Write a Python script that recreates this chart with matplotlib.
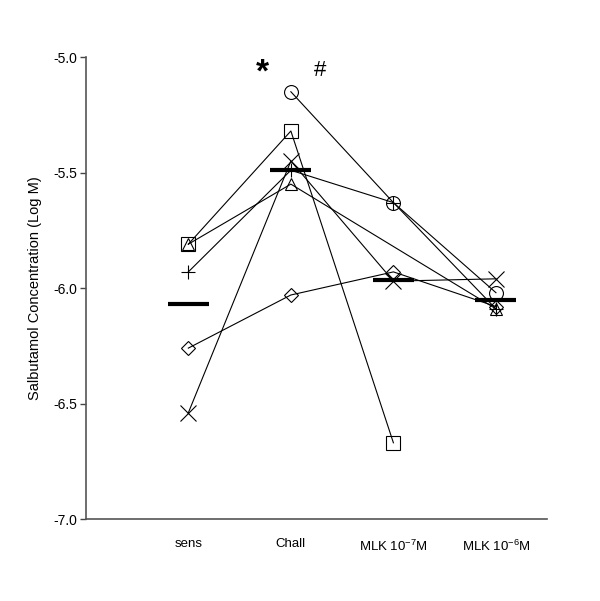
import numpy as np
import matplotlib
matplotlib.use("Agg")
import matplotlib.pyplot as plt

plt.rcParams['font.family'] = ['Liberation Sans', 'DejaVu Sans']
plt.rcParams['mathtext.fontset'] = 'custom'
plt.rcParams['mathtext.rm'] = 'Liberation Sans'
plt.rcParams['mathtext.default'] = 'regular'

categories = ['sens', 'Chall', 'MLK 10$^{-7}$M', 'MLK 10$^{-6}$M']
nan = np.nan
square   = [-5.81, -5.32, -6.67, nan]
triangle = [-5.81, -5.55, nan, -6.09]
plus     = [-5.93, -5.49, -5.63, -6.09]
diamond  = [-6.26, -6.03, -5.93, -6.08]
cross    = [-6.54, -5.45, -5.97, -5.96]
circle   = [nan, -5.15, -5.63, -6.02]
means    = [-6.07, -5.49, -5.965, -6.05]

series = [
    (square, 's', 10),
    (triangle, '^', 9),
    (plus, '+', 10),
    (diamond, 'D', 7.5),
    (cross, 'x', 11),
    (circle, 'o', 10),
]

fig = plt.figure(figsize=(6.0, 6.01), dpi=100)
ax = fig.add_axes([0.143, 0.1364, 0.769, 0.7686])

xpos = np.arange(1, len(categories) + 1)
for vals, mk, ms in series:
    v = np.array(vals, dtype=float)
    ok = ~np.isnan(v)
    ax.plot(xpos[ok], v[ok], color='black', lw=0.8, marker=mk, ms=ms,
            mfc='none', mec='black', mew=0.8, clip_on=False, zorder=3)

ax.hlines(means, xpos - 0.2, xpos + 0.2, colors='black', lw=3, zorder=4)

ax.text(1.72, -5.068, '*', fontsize=24, fontweight='bold', ha='center', va='center')
ax.text(2.28, -5.056, '#', fontsize=16, ha='center', va='center')

ax.set_xlim(0, 4.5)
ax.set_ylim(-7.0, -5.0)
ax.set_yticks([-7.0, -6.5, -6.0, -5.5, -5.0])
ax.set_yticklabels(['-7.0', '-6.5', '-6.0', '-5.5', '-5.0'])
ax.set_xticks(xpos)
ax.set_xticklabels(categories)
ax.tick_params(axis='x', length=0, pad=14, labelsize=9.5)
ax.tick_params(axis='y', length=4, width=1, color='#444444', labelsize=10, pad=2)
ax.set_ylabel('Salbutamol Concentration (Log M)', fontsize=10.5, labelpad=8)

for s in ['top', 'right']:
    ax.spines[s].set_visible(False)
for s in ['left', 'bottom']:
    ax.spines[s].set_color('#555555')
    ax.spines[s].set_linewidth(1.2)

fig.savefig('out.png', dpi=100)
